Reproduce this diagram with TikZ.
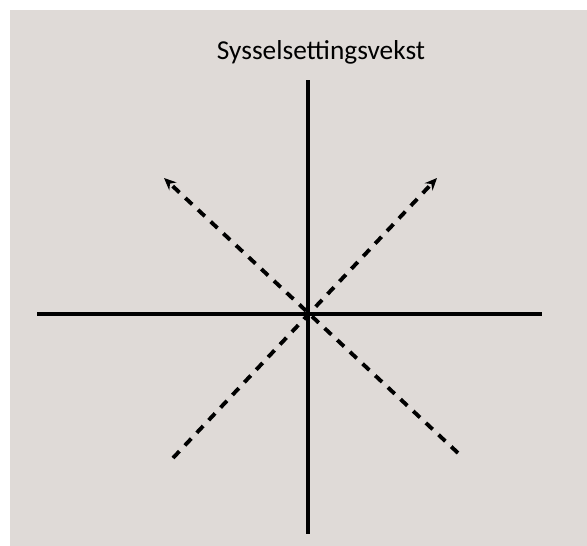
\documentclass[tikz,border=0pt]{standalone}
\usepackage{fontspec}
\setmainfont{Carlito}
\usetikzlibrary{arrows.meta}
\definecolor{bgpanel}{HTML}{DFDAD7}

\begin{document}
\begin{tikzpicture}[x=0.75pt,y=-0.75pt,>={Stealth[length=3.2mm,width=2.8mm]},
  axis/.style={line width=2.9pt},
  trend/.style={line width=2.9pt,dash pattern=on 7pt off 6pt,->}]
\useasboundingbox (0,0) rectangle (587,546);
\fill[bgpanel] (10,10) rectangle (587,546);
% axes
\coordinate (top) at (308,80);
\coordinate (bottom) at (308,534);
\coordinate (left) at (37,314);
\coordinate (right) at (542,314);
\draw[axis] (top) -- (bottom);
\draw[axis] (left) -- (right);
% diagonals
\coordinate (sw) at (173,458);
\coordinate (ne) at (437,178);
\coordinate (se) at (458,453);
\coordinate (nw) at (164,178);
\draw[trend] (sw) -- (ne);
\draw[trend] (se) -- (nw);
\node[font=\fontsize{20.5}{24}\selectfont] (title) at (321,52) {Sysselsettingsvekst};
\end{tikzpicture}
\end{document}
